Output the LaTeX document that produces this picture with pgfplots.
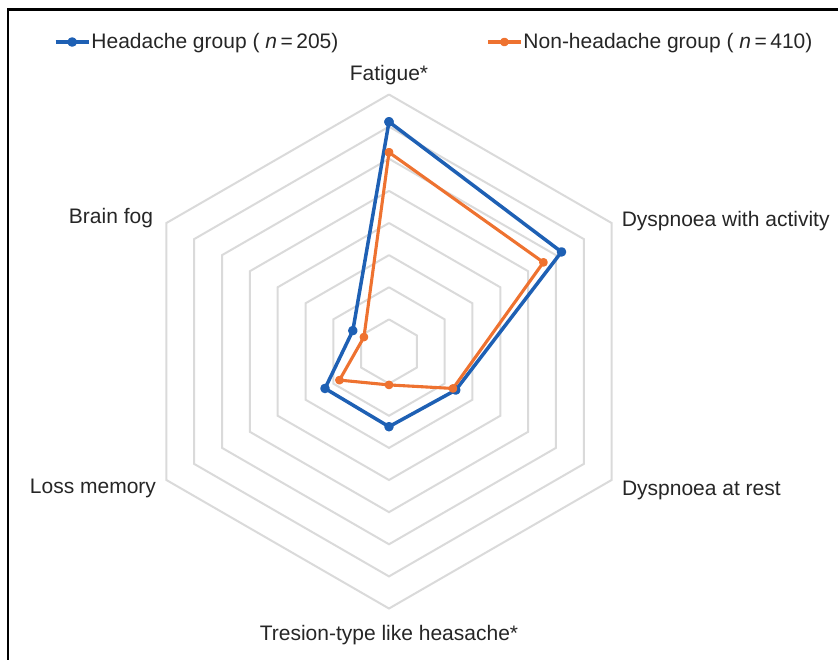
\documentclass[border=0pt]{standalone}
\usepackage{fontspec}
\setmainfont{Liberation Sans}
\usepackage{pgfplots}
\pgfplotsset{compat=1.18}
\usepgfplotslibrary{polar}
\definecolor{hblue}{RGB}{30,96,180}
\definecolor{horange}{RGB}{238,114,48}
\definecolor{ringgray}{RGB}{218,218,218}
\definecolor{txt}{RGB}{38,38,38}
\begin{document}
\begin{tikzpicture}[font=\fontsize{10.5}{12.6}\selectfont,
  lbl/.style={text=txt, inner sep=0pt, outer sep=0pt}]
\useasboundingbox (-194.5pt,-153.75pt) rectangle (224.5pt,175.75pt);
\begin{polaraxis}[
  at={(0,0)}, anchor=center,
  width=257pt, height=257pt, scale only axis,
  ymin=0, ymax=80,
  hide axis, clip=false,
  legend columns=2,
  legend style={draw=none, fill=none, inner sep=0pt, outer sep=0pt,
    at={(-0.1518,1.1021)}, anchor=west,
    font=\fontsize{10.5}{12.6}\selectfont, text=txt,
    nodes={inner sep=0.5pt},
    /tikz/every even column/.append style={column sep=73.5pt}},
  legend image code/.code={
    \draw[mark repeat=2,mark phase=2,#1] plot coordinates {(0pt,0pt)(8.25pt,0pt)(16.5pt,0pt)};},
  ring/.style={ringgray, line width=1pt, mark=none, forget plot},
]
\pgfplotsinvokeforeach{10,20,...,80}{
  \addplot[ring] coordinates {(90,#1) (30,#1) (-30,#1) (-90,#1) (-150,#1) (150,#1) (90,#1)};
}
% order: Fatigue, Dyspnoea with activity, Dyspnoea at rest, Tension-type, Loss memory, Brain fog
\addplot[hblue, line width=1.75pt, mark=*, mark size=1.5pt, line join=round] coordinates {
  (90,71.5) (30,62) (-30,24) (-90,23.4) (-150,23) (150,13) (90,71.5)};
\addlegendentry{Headache group ( \textit{n}\,=\,205)}
\addplot[horange, line width=1.55pt, mark=*, mark size=1.4pt, line join=round] coordinates {
  (90,62) (30,55.5) (-30,23) (-90,10.4) (-150,17.8) (150,9) (90,62)};
\addlegendentry{Non-headache group ( \textit{n}\,=\,410)}
\node[lbl, anchor=base] at (axis cs:90,84.3) {Fatigue*};
\node[lbl, anchor=base west] at (axis cs:28.3,82.3) {Dyspnoea with activity};
\node[lbl, anchor=base west] at (axis cs:-31.75,85.3) {Dyspnoea at rest};
\node[lbl, anchor=base] at (axis cs:-90,90) {Tresion-type like heasache*};
\node[lbl, anchor=base east] at (axis cs:211.3,84.9) {Loss memory};
\node[lbl, anchor=base east] at (axis cs:151.6,83.5) {Brain fog};
\end{polaraxis}
\draw[line width=1.25pt, black] (-190.5pt,-160pt) -- (-190.5pt,170.9pt) -- (230pt,170.9pt);
\end{tikzpicture}
\end{document}
